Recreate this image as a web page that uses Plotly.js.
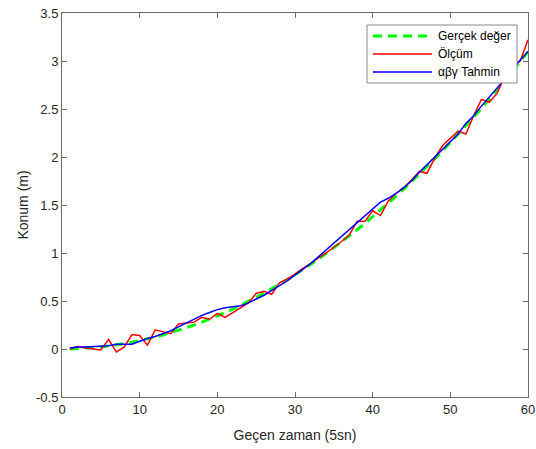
<!DOCTYPE html>
<html>
<head>
<meta charset="utf-8">
<script src="https://cdn.plot.ly/plotly-3.0.1.min.js"></script>
<style>html,body{margin:0;padding:0;background:#fff;}#chart{width:536px;height:449px;}</style>
</head>
<body>
<div id="chart"></div>
<script>
var steps = [1,2,3,4,5,6,7,8,9,10,11,12,13,14,15,16,17,18,19,20,21,22,23,24,25,26,27,28,29,30,31,32,33,34,35,36,37,38,39,40,41,42,43,44,45,46,47,48,49,50,51,52,53,54,55,56,57,58,59,60];
var trueValues = [0.001,0.003,0.008,0.014,0.022,0.031,0.042,0.055,0.070,0.086,0.104,0.124,0.145,0.169,0.194,0.220,0.249,0.279,0.310,0.344,0.379,0.416,0.455,0.495,0.538,0.581,0.627,0.674,0.723,0.774,0.826,0.881,0.937,0.994,1.054,1.115,1.177,1.242,1.308,1.376,1.446,1.517,1.590,1.665,1.742,1.820,1.900,1.981,2.065,2.150,2.237,2.325,2.416,2.508,2.602,2.697,2.794,2.893,2.994,3.096];
var measured = [0.0,0.025,0.01,0.0,-0.01,0.10,-0.03,0.02,0.15,0.14,0.04,0.20,0.18,0.16,0.26,0.27,0.28,0.33,0.31,0.37,0.33,0.38,0.43,0.48,0.58,0.60,0.57,0.69,0.73,0.78,0.84,0.89,0.95,1.00,1.06,1.12,1.19,1.33,1.33,1.44,1.39,1.54,1.62,1.68,1.76,1.85,1.83,1.99,2.12,2.20,2.27,2.24,2.43,2.60,2.57,2.66,2.84,2.95,3.0,3.22];
var estimated = [0.01,0.02,0.02,0.025,0.03,0.035,0.05,0.05,0.05,0.08,0.11,0.13,0.16,0.19,0.23,0.27,0.31,0.35,0.38,0.41,0.43,0.44,0.45,0.48,0.52,0.56,0.61,0.66,0.71,0.77,0.83,0.89,0.96,1.03,1.11,1.18,1.25,1.31,1.38,1.46,1.53,1.57,1.62,1.68,1.75,1.84,1.92,1.99,2.07,2.16,2.24,2.35,2.43,2.53,2.62,2.72,2.81,2.92,3.01,3.10];
var seriesNames = ['Gerçek değer','Ölçüm','αβγ Tahmin'];
var xTicks = [0,10,20,30,40,50,60];
var yTicks = [-0.5,0,0.5,1,1.5,2,2.5,3,3.5];
var yTickText = ['-0.5','0','0.5','1','1.5','2','2.5','3','3.5'];

var FONT = 'Liberation Sans, Arial, sans-serif';
var lineStyles = [
  {color: '#00ff00', width: 3, dash: '9px,6px'},
  {color: '#ff0000', width: 1.5},
  {color: '#0000ff', width: 1.5}
];
var seriesY = [trueValues, measured, estimated];
var traces = seriesY.map(function (ys, i) {
  return {x: steps, y: ys, name: seriesNames[i], mode: 'lines', line: lineStyles[i], showlegend: false};
});

// Manual legend (MATLAB style: long line samples), placed in paper coordinates
var plotW = 466, plotH = 384; // plot area size in px
function px2x(px) { return (px - 62) / plotW; }
function px2y(py) { return (397 - py) / plotH; }
var shapes = [{type: 'rect', xref: 'paper', yref: 'paper', x0: px2x(367), x1: px2x(517), y0: px2y(83), y1: px2y(25),
  line: {color: '#8a8a8a', width: 1}, fillcolor: '#ffffff', layer: 'above'}];
var annotations = [];
var rowY = [36, 54, 72];
seriesNames.forEach(function (name, i) {
  var ls = lineStyles[i];
  shapes.push({type: 'line', xref: 'paper', yref: 'paper', x0: px2x(373), x1: px2x(432), y0: px2y(rowY[i]), y1: px2y(rowY[i]),
    line: {color: ls.color, width: ls.width, dash: i === 0 ? '9px,6px' : 'solid'}, layer: 'above'});
  annotations.push({xref: 'paper', yref: 'paper', x: px2x(436), y: px2y(rowY[i]), xanchor: 'left', yanchor: 'middle',
    text: name, showarrow: false, font: {family: FONT, size: 12, color: '#000'}});
});

var axisCommon = {
  showline: true, linecolor: '#6b6b6b', linewidth: 1, mirror: 'ticks',
  ticks: 'inside', ticklen: 5, tickcolor: '#6b6b6b', showgrid: false, zeroline: false,
  tickfont: {family: FONT, size: 13, color: '#262626'}
};
var layout = {
  width: 536, height: 449,
  margin: {l: 62, r: 8, t: 13, b: 52},
  paper_bgcolor: '#fff', plot_bgcolor: '#fff',
  showlegend: false,
  shapes: shapes,
  annotations: annotations,
  xaxis: Object.assign({}, axisCommon, {range: [0, 60], tickvals: xTicks, ticktext: xTicks.map(String),
    title: {text: 'Geçen zaman (5sn)', standoff: 14, font: {family: FONT, size: 14, color: '#262626'}}}),
  yaxis: Object.assign({}, axisCommon, {range: [-0.5, 3.5], tickvals: yTicks, ticktext: yTickText,
    title: {text: 'Konum (m)', standoff: 4, font: {family: FONT, size: 14, color: '#262626'}}})
};
Plotly.newPlot('chart', traces, layout, {displayModeBar: false, staticPlot: true});
</script>
</body>
</html>
